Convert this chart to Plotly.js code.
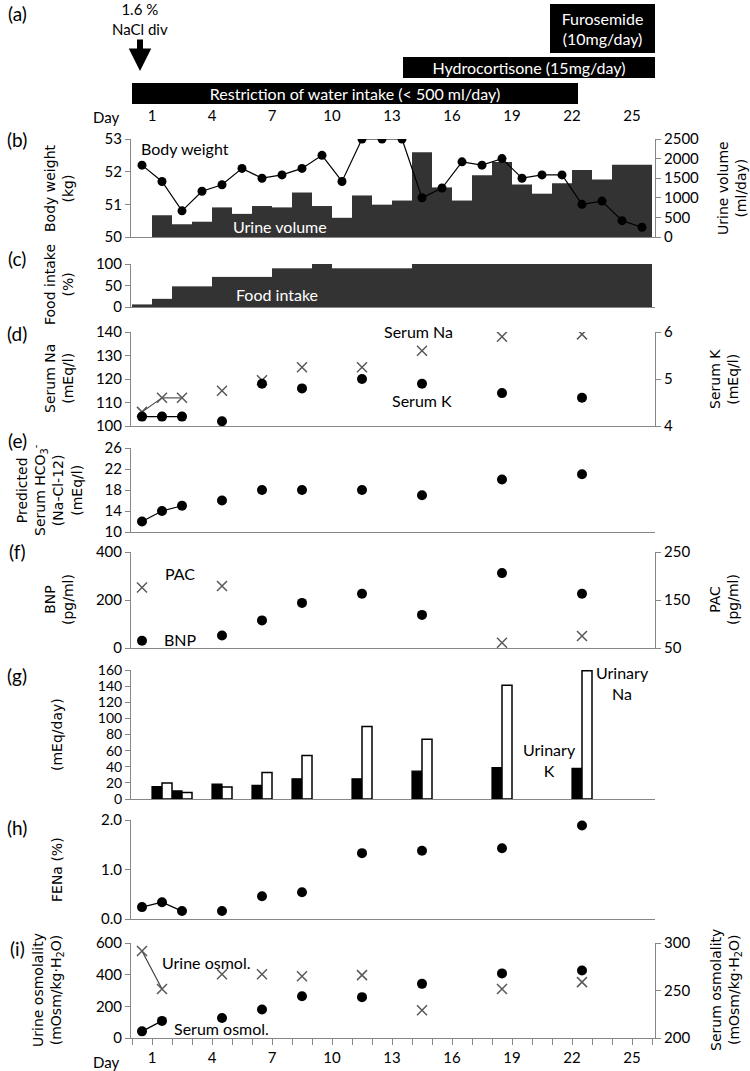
<!DOCTYPE html>
<html><head><meta charset="utf-8">
<script src="https://cdn.plot.ly/plotly-3.0.1.min.js"></script>
<style>html,body{margin:0;padding:0;background:#fff}</style>
</head><body><div id="chart" style="width:750px;height:1071px"></div>
<script>
// ---------- data ----------
const treatments = ['Restriction of water intake (< 500 ml/day)', 'Hydrocortisone (15mg/day)', 'Furosemide<br>(10mg/day)'];
const treatStart = [0, 13.55, 20.9];
const treatEnd = [22.3, 26.15, 26.15];

const dailyDays = [0.5,1.5,2.5,3.5,4.5,5.5,6.5,7.5,8.5,9.5,10.5,11.5,12.5,13.5,14.5,15.5,16.5,17.5,18.5,19.5,20.5,21.5,22.5,23.5,24.5,25.5];
const bodyWeight = [52.2,51.7,50.8,51.4,51.6,52.1,51.8,51.9,52.1,52.5,51.7,53.0,53.0,53.0,51.2,51.5,52.3,52.2,52.4,51.8,51.9,51.9,51.0,51.1,50.5,50.3];
const urineVolume = [0,555,325,390,755,590,790,755,1135,790,490,1060,825,930,2160,1265,930,1575,1915,1340,1105,1370,1710,1470,1845,1845];
const foodIntake = [6,19,48,48,70,70,70,90,90,100,90,90,90,90,100,100,100,100,100,100,100,100,100,100,100,100];

const labDays = [0.5,1.5,2.5,4.5,6.5,8.5,11.5,14.5,18.5,22.5];
const serumNa = [106,112,112,115,119.5,125,125,132,138,139];
const serumK = [4.2,4.2,4.2,4.1,4.9,4.8,5.0,4.9,4.7,4.6];
const hco3 = [12,14,15,16,18,18,18,17,20,21];
const fena = [0.24,0.34,0.16,0.16,0.46,0.54,1.33,1.38,1.43,1.89];

const bnpDays = [0.5,4.5,6.5,8.5,11.5,14.5,18.5,22.5];
const bnp = [30,52,115,188,226,138,312,226];
const pacDays = [0.5,4.5,18.5,22.5];
const pac = [176,179,61,75];

const urDays = [1.5,2.5,4.5,6.5,8.5,11.5,14.5,18.5,22.5];
const urinaryK = [15.5,10,18.5,17,25,25,34.5,39,38];
const urinaryNa = [20,8,15,33,54,90,74,141,159];

const osmDays = [0.5,1.5,4.5,6.5,8.5,11.5,14.5,18.5,22.5];
const urineOsm = [550,310,403,403,390,397,175,309,353];
const serumOsm = [207,218,221,230,244,243,257,268,271];

// ---------- layout helpers ----------
const W = 750, H = 1071;
const px = x => x / W, py = y => 1 - y / H;
const dom = (top, bot) => [py(bot), py(top)];
const XR = [-0.05, 26.15], XD = [px(131), px(655)];
const AX = '#868686';
const TICKF = {family: 'Lato, Calibri, sans-serif', size: 15, color: '#000'};
const TITF = {family: 'DejaVu Sans, Verdana, sans-serif', size: 14, color: '#000'};
const TXTF = {family: 'Lato, Calibri, sans-serif', size: 16, color: '#000'};
const DOT = {symbol: 'circle', size: 10, color: '#000'};
const CROSS = {symbol: 'x-thin', size: 10, color: '#595959', line: {width: 1.5, color: '#595959'}};

function xax(anchor, extra) {
  return Object.assign({domain: XD, range: XR, anchor: anchor, showline: true, linecolor: AX, linewidth: 1,
    ticks: '', showticklabels: false, showgrid: false, zeroline: false, fixedrange: true}, extra || {});
}
function yax(anchor, top, bot, range, extra) {
  return Object.assign({domain: dom(top, bot), range: range, anchor: anchor, showline: true, linecolor: AX, linewidth: 1,
    ticks: 'outside', ticklen: 5, tickcolor: AX, tickfont: TICKF, showgrid: false, zeroline: false, fixedrange: true}, extra || {});
}

const traces = [];
// (a) treatments
traces.push({type: 'bar', orientation: 'h', xaxis: 'x', yaxis: 'y',
  base: treatStart, x: treatEnd.map((e, i) => e - treatStart[i]), y: [93.5, 67.5, 28.5], width: [21, 21, 49],
  marker: {color: '#000'}, text: treatments, textposition: 'inside', insidetextanchor: 'middle',
  constraintext: 'none', textfont: {family: 'Lato, Calibri, sans-serif', size: 16, color: '#fff'}, hoverinfo: 'skip'});
// (b)
traces.push({type: 'bar', x: dailyDays, y: urineVolume, width: 1, xaxis: 'x2', yaxis: 'y2', marker: {color: '#333'}});
traces.push({type: 'scatter', mode: 'lines+markers', x: dailyDays, y: bodyWeight, xaxis: 'x2', yaxis: 'y3',
  line: {color: '#000', width: 1.2}, marker: {symbol: 'circle', size: 9, color: '#000'}});
// (c)
traces.push({type: 'bar', x: dailyDays, y: foodIntake, width: 1, xaxis: 'x3', yaxis: 'y4', marker: {color: '#333'}});
// (d)
traces.push({type: 'scatter', mode: 'lines', x: labDays.slice(0, 3), y: serumNa.slice(0, 3), xaxis: 'x4', yaxis: 'y5', line: {color: '#595959', width: 1.2}});
traces.push({type: 'scatter', mode: 'markers', x: labDays, y: serumNa, xaxis: 'x4', yaxis: 'y5', marker: CROSS});
traces.push({type: 'scatter', mode: 'lines', x: labDays.slice(0, 3), y: serumK.slice(0, 3), xaxis: 'x4', yaxis: 'y6', line: {color: '#000', width: 1.2}});
traces.push({type: 'scatter', mode: 'markers', x: labDays, y: serumK, xaxis: 'x4', yaxis: 'y6', marker: DOT});
// (e)
traces.push({type: 'scatter', mode: 'lines', x: labDays.slice(0, 3), y: hco3.slice(0, 3), xaxis: 'x5', yaxis: 'y7', line: {color: '#000', width: 1.2}});
traces.push({type: 'scatter', mode: 'markers', x: labDays, y: hco3, xaxis: 'x5', yaxis: 'y7', marker: DOT});
// (f)
traces.push({type: 'scatter', mode: 'markers', x: bnpDays, y: bnp, xaxis: 'x6', yaxis: 'y8', marker: DOT});
traces.push({type: 'scatter', mode: 'markers', x: pacDays, y: pac, xaxis: 'x6', yaxis: 'y9', marker: CROSS});
// (g)
traces.push({type: 'bar', x: urDays, y: urinaryK, width: 0.5, offset: -0.5, xaxis: 'x7', yaxis: 'y10', marker: {color: '#000', line: {color: '#000', width: 1.2}}});
traces.push({type: 'bar', x: urDays, y: urinaryNa, width: 0.5, offset: 0, xaxis: 'x7', yaxis: 'y10', marker: {color: '#fff', line: {color: '#000', width: 1.5}}});
// (h)
traces.push({type: 'scatter', mode: 'lines', x: labDays.slice(0, 3), y: fena.slice(0, 3), xaxis: 'x8', yaxis: 'y11', line: {color: '#000', width: 1.2}});
traces.push({type: 'scatter', mode: 'markers', x: labDays, y: fena, xaxis: 'x8', yaxis: 'y11', marker: DOT});
// (i)
traces.push({type: 'scatter', mode: 'lines', x: osmDays.slice(0, 2), y: urineOsm.slice(0, 2), xaxis: 'x9', yaxis: 'y12', line: {color: '#404040', width: 1.2}});
traces.push({type: 'scatter', mode: 'markers', x: osmDays, y: urineOsm, xaxis: 'x9', yaxis: 'y12', marker: CROSS});
traces.push({type: 'scatter', mode: 'lines', x: osmDays.slice(0, 2), y: serumOsm.slice(0, 2), xaxis: 'x9', yaxis: 'y13', line: {color: '#000', width: 1.2}});
traces.push({type: 'scatter', mode: 'markers', x: osmDays, y: serumOsm, xaxis: 'x9', yaxis: 'y13', marker: DOT});

const dayTicks = {showticklabels: true, tickmode: 'linear', tick0: 1, dtick: 3, tickfont: TICKF};

const layout = {
  width: W, height: H, margin: {l: 0, r: 0, t: 0, b: 0}, paper_bgcolor: '#fff', plot_bgcolor: 'rgba(0,0,0,0)',
  showlegend: false, barmode: 'overlay', hovermode: false,
  xaxis: xax('y', Object.assign({showline: false}, dayTicks)),
  yaxis: {domain: dom(2, 105), range: [105, 2], visible: false, fixedrange: true},
  xaxis2: xax('y2'),
  yaxis2: yax('x2', 139, 237, [0, 2500], {side: 'right', dtick: 500}),
  yaxis3: yax('x2', 139, 237, [50, 53], {side: 'left', overlaying: 'y2', dtick: 1}),
  xaxis3: xax('y4'),
  yaxis4: yax('x3', 264, 307, [0, 100], {dtick: 50}),
  xaxis4: xax('y5'),
  yaxis5: yax('x4', 332, 426, [100, 140], {dtick: 10}),
  yaxis6: yax('x4', 332, 426, [4, 6], {side: 'right', overlaying: 'y5', dtick: 1}),
  xaxis5: xax('y7'),
  yaxis7: yax('x5', 448, 532, [10, 26], {tick0: 10, dtick: 4}),
  xaxis6: xax('y8'),
  yaxis8: yax('x6', 552, 648, [0, 400], {dtick: 200}),
  yaxis9: yax('x6', 552, 648, [50, 250], {side: 'right', overlaying: 'y8', tick0: 50, dtick: 100}),
  xaxis7: xax('y10'),
  yaxis10: yax('x7', 670, 799, [0, 160], {dtick: 20, tickfont: Object.assign({}, TICKF, {size: 14})}),
  xaxis8: xax('y11'),
  yaxis11: yax('x8', 820, 919, [0, 2], {dtick: 1, tickformat: '.1f'}),
  xaxis9: xax('y12', Object.assign({ticks: 'outside', ticklen: 6, tickcolor: AX,
    minor: {tick0: 0, dtick: 1, ticks: 'outside', ticklen: 6, tickcolor: AX}}, dayTicks)),
  yaxis12: yax('x9', 943, 1038, [0, 600], {dtick: 200}),
  yaxis13: yax('x9', 943, 1038, [200, 300], {side: 'right', overlaying: 'y12', dtick: 50}),
  annotations: []
};

function note(text, x, y, font, extra) {
  layout.annotations.push(Object.assign({text: text, xref: 'paper', yref: 'paper', x: px(x), y: py(y),
    xanchor: 'center', yanchor: 'middle', showarrow: false, font: font}, extra || {}));
}
// panel letters
const PF = {family: 'Lato, Calibri, sans-serif', size: 19, color: '#000'};
[['(a)', 14], ['(b)', 140], ['(c)', 258], ['(d)', 333], ['(e)', 440], ['(f)', 552], ['(g)', 675], ['(h)', 827], ['(i)', 948]]
  .forEach(p => note(p[0], 17, p[1], PF));
// Day labels
note('Day', 106, 117, TICKF);
note('Day', 106, 1062, TICKF);
// NaCl arrow
layout.annotations.push({text: '1.6 %<br>NaCl div', xref: 'x', yref: 'paper', x: 0.4, y: py(71), ax: 0, ay: -52,
  showarrow: true, arrowhead: 2, arrowsize: 0.75, arrowwidth: 6, arrowcolor: '#000', standoff: 0,
  font: {family: 'Lato, Calibri, sans-serif', size: 15, color: '#000'}});
// y titles
const ROT = {textangle: -90};
note('Body weight<br>(kg)', 59, 188, TITF, ROT);
note('Urine volume<br>(ml/day)', 732, 188, TITF, ROT);
note('Food intake<br>(%)', 59, 285, TITF, ROT);
note('Serum Na<br>(mEq/l)', 59, 379, TITF, ROT);
note('Serum K<br>(mEq/l)', 724, 379, TITF, ROT);
note('Predicted<br>Serum HCO<sub>3</sub><sup>-</sup><br>(Na-Cl-12)<br>(mEq/l)', 50, 490, TITF, ROT);
note('BNP<br>(pg/ml)', 59, 600, TITF, ROT);
note('PAC<br>(pg/ml)', 724, 600, TITF, ROT);
note('(mEq/day)', 57, 735, TITF, ROT);
note('FENa (%)', 57, 870, TITF, ROT);
note('Urine osmolality<br>(mOsm/kg·H<sub>2</sub>O)', 48, 990, TITF, ROT);
note('Serum osmolality<br>(mOsm/kg·H<sub>2</sub>O)', 726, 990, TITF, ROT);
// series labels
note('Body weight', 185, 149, TXTF);
note('Urine volume', 280, 226, Object.assign({}, TXTF, {color: '#fff'}));
note('Food intake', 277, 294, Object.assign({}, TXTF, {color: '#fff'}));
note('Serum Na', 418, 331, TXTF);
note('Serum K', 422, 400, TXTF);
note('PAC', 180, 573, TXTF);
note('BNP', 180, 639, TXTF);
note('Urinary<br>Na', 622, 683, TXTF);
note('Urinary<br>K', 549, 760, TXTF);
note('Urine osmol.', 206, 962, TXTF);
note('Serum osmol.', 221, 1028, TXTF);

Plotly.newPlot('chart', traces, layout, {staticPlot: true, displayModeBar: false});
</script></body></html>
